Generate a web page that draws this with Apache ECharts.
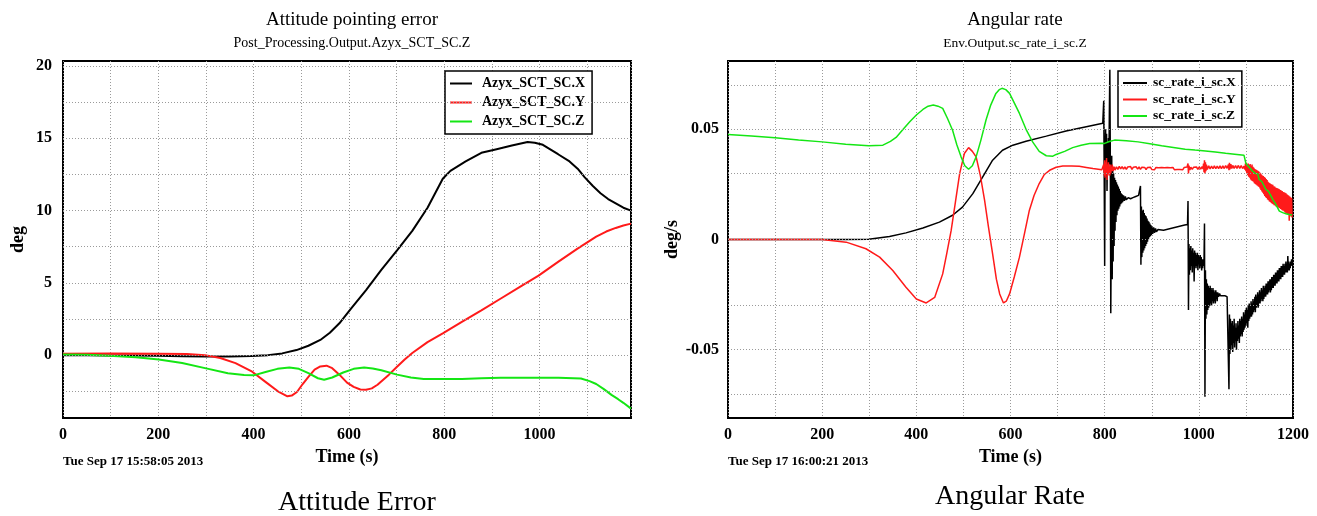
<!DOCTYPE html>
<html>
<head>
<meta charset="utf-8">
<title>Attitude Error / Angular Rate</title>
<script src="https://cdn.jsdelivr.net/npm/echarts@6/dist/echarts.min.js"></script>
<style>
  html, body { margin: 0; padding: 0; background: #ffffff; }
  #chart { width: 1317px; height: 516px; }
</style>
</head>
<body>
<div id="chart"></div>
<script>
// ---------- Attitude pointing error (deg) : [time s, value] ----------
const attX = [
  [0,0.0],[50,0.0],[100,-0.02],[150,-0.03],[200,-0.05],[250,-0.07],[300,-0.1],[350,-0.1],[395,-0.06],
  [430,0.0],[460,0.12],[490,0.35],[515,0.65],[540,1.05],[560,1.55],[580,2.2],[604,3.2],[636,4.5],
  [668,5.9],[701,7.25],[733,8.6],[765,10.2],[797,12.2],[813,12.75],[845,13.4],[878,14.0],[910,14.25],
  [942,14.5],[975,14.75],[990,14.7],[1007,14.55],[1039,13.9],[1063,13.4],[1080,12.9],[1095,12.3],
  [1112,11.7],[1128,11.2],[1144,10.8],[1160,10.5],[1176,10.2],[1192,10.0]
];
const attY = [
  [0,0.1],[100,0.12],[200,0.1],[260,0.08],[298,0.0],[330,-0.2],[362,-0.55],[395,-1.1],[427,-1.9],
  [451,-2.5],[471,-2.85],[480,-2.8],[491,-2.55],[503,-2.0],[515,-1.5],[528,-1.0],[540,-0.78],[553,-0.73],
  [565,-0.9],[580,-1.35],[596,-1.9],[610,-2.2],[624,-2.38],[636,-2.4],[648,-2.3],[660,-2.05],[672,-1.7],
  [684,-1.35],[701,-0.8],[717,-0.3],[733,0.15],[765,0.9],[797,1.5],[837,2.3],[878,3.1],[918,3.9],
  [958,4.7],[998,5.5],[1039,6.45],[1079,7.35],[1119,8.2],[1140,8.55],[1160,8.8],[1176,8.97],[1192,9.1]
];
const attZ = [
  [0,0.05],[50,0.02],[97,-0.05],[153,-0.15],[201,-0.3],[250,-0.55],[298,-0.9],[346,-1.25],[380,-1.38],
  [400,-1.4],[427,-1.15],[450,-0.95],[475,-0.85],[495,-0.95],[515,-1.25],[535,-1.6],[548,-1.7],
  [565,-1.55],[588,-1.2],[610,-0.95],[632,-0.85],[650,-0.92],[668,-1.05],[701,-1.35],[730,-1.55],
  [757,-1.65],[800,-1.66],[837,-1.65],[878,-1.6],[918,-1.57],[958,-1.56],[998,-1.56],[1040,-1.57],
  [1087,-1.62],[1105,-1.8],[1119,-2.0],[1135,-2.35],[1151,-2.75],[1165,-3.05],[1176,-3.3],[1192,-3.7]
];

// ---------- Angular rate (deg/s) : [time s, value] ----------
const rateX = [
  [0,0],[100,0],[200,0],[251,0],[299,0.0001],[343,0.0014],[378,0.003],[414,0.0052],[449,0.0079],
  [477,0.011],[498,0.0147],[520,0.0208],[541,0.0284],[562,0.036],[583,0.0405],[605,0.0428],[633,0.0446],
  [676,0.0469],[718,0.0492],[761,0.0512],[796,0.0528],
  [797,0.0528],[798,0.063],[799,0.030],[800,-0.012],[801,0.040],[802,0.050],[803,0.028],[804,0.048],
  [805,0.022],[806,0.044],[807,0.030],[808,0.046],[809,0.034],[810,0.058],[811,0.077],[812,0.036],
  [813,-0.0335],[814,0.002],[815,0.038],[816,-0.018],[817,0.032],[818,-0.010],[819,0.030],[820,-0.003],
  [821,0.028],[822,0.004],[823,0.027],[824,0.008],[825,0.026],[826,0.011],[827,0.025],[828,0.013],
  [829,0.024],[830,0.014],[831,0.023],[832,0.015],[833,0.022],[834,0.016],[835,0.021],[836,0.0165],
  [837,0.0205],[838,0.017],[840,0.020],[842,0.0175],[844,0.0195],[846,0.018],[850,0.019],[855,0.0185],
  [860,0.019],[866,0.0195],[872,0.020],[875,0.0205],
  [876,0.0243],[877,-0.0114],[878,0.015],[879,-0.008],[880,0.013],[881,-0.006],[882,0.0135],[883,-0.005],
  [884,0.012],[885,-0.004],[886,0.011],[887,-0.003],[888,0.0105],[889,-0.002],[890,0.0095],[891,-0.001],
  [892,0.0085],[893,0.0],[894,0.008],[895,0.001],[896,0.0072],[897,0.0015],[898,0.0066],[899,0.002],
  [900,0.006],[902,0.0025],[904,0.0055],[906,0.003],[908,0.005],[910,0.0035],[913,0.0045],[917,0.004],
  [925,0.0042],[940,0.0050],[955,0.0058],[970,0.0066],[976,0.0068],
  [977,0.0175],[978,-0.032],[979,-0.002],[980,-0.016],[981,-0.004],[982,-0.014],[983,-0.003],[984,-0.012],
  [985,-0.005],[986,-0.015],[987,-0.004],[988,-0.011],[989,-0.006],[990,-0.019],[991,-0.005],[992,-0.012],
  [993,-0.006],[994,-0.013],[995,-0.007],[996,-0.012],[997,-0.006],[998,-0.014],[999,-0.007],[1000,-0.011],
  [1001,-0.008],[1002,-0.013],[1003,-0.007],[1004,-0.012],[1005,-0.008],[1006,-0.014],[1007,-0.009],
  [1008,-0.013],[1009,-0.009],[1010,-0.012],[1011,-0.010],[1012,0.0073],[1013,-0.0713],[1014,-0.014],
  [1015,-0.036],[1016,-0.018],[1017,-0.034],[1018,-0.020],[1019,-0.032],[1020,-0.021],[1021,-0.031],
  [1022,-0.022],[1023,-0.030],[1024,-0.021],[1025,-0.029],[1026,-0.022],[1027,-0.030],[1028,-0.023],
  [1029,-0.028],[1030,-0.022],[1031,-0.029],[1032,-0.023],[1033,-0.028],[1034,-0.024],[1035,-0.029],
  [1036,-0.023],[1037,-0.027],[1038,-0.024],[1039,-0.028],[1040,-0.024],[1042,-0.026],[1044,-0.0245],
  [1046,-0.0255],[1050,-0.025],[1055,-0.0255],[1060,-0.026],[1063,-0.0265],
  [1064,-0.068],[1065,-0.034],[1066,-0.052],[1067,-0.036],[1068,-0.050],[1069,-0.038],[1070,-0.048],
  [1071,-0.037],[1072,-0.051],[1073,-0.039],[1074,-0.047],[1075,-0.036],[1076,-0.049],[1077,-0.040],
  [1078,-0.046],[1079,-0.038],[1080,-0.050],[1081,-0.040],[1082,-0.046],[1083,-0.037],[1084,-0.045],
  [1085,-0.039],[1086,-0.047],[1087,-0.036],[1088,-0.044],[1089,-0.037],[1090,-0.043],[1091,-0.035],
  [1092,-0.044],[1093,-0.036],[1094,-0.042],[1095,-0.033],[1096,-0.041],[1097,-0.034],[1098,-0.040],
  [1099,-0.032],[1100,-0.039],[1101,-0.031],[1102,-0.038],[1103,-0.032],[1104,-0.040],[1105,-0.030],
  [1106,-0.037],[1107,-0.029],[1108,-0.036],[1109,-0.030],[1110,-0.035],[1111,-0.028],[1112,-0.035],
  [1113,-0.029],[1114,-0.034],[1115,-0.027],[1116,-0.033],[1117,-0.028],[1118,-0.032],[1119,-0.026],
  [1120,-0.033],[1121,-0.025],[1122,-0.031],[1123,-0.026],[1124,-0.030],[1125,-0.024],[1126,-0.031],
  [1127,-0.025],[1128,-0.029],[1129,-0.023],[1130,-0.029],[1131,-0.024],[1132,-0.028],[1133,-0.022],
  [1134,-0.027],[1135,-0.023],[1136,-0.028],[1137,-0.021],[1138,-0.027],[1139,-0.022],[1140,-0.026],
  [1141,-0.021],[1142,-0.026],[1143,-0.020],[1144,-0.025],[1145,-0.020],[1146,-0.025],[1147,-0.019],
  [1148,-0.024],[1149,-0.019],[1150,-0.023],[1151,-0.018],[1152,-0.024],[1153,-0.018],[1154,-0.023],
  [1155,-0.017],[1156,-0.022],[1157,-0.017],[1158,-0.022],[1159,-0.016],[1160,-0.021],[1161,-0.016],
  [1162,-0.021],[1163,-0.015],[1164,-0.020],[1165,-0.015],[1166,-0.020],[1167,-0.014],[1168,-0.019],
  [1169,-0.014],[1170,-0.019],[1171,-0.013],[1172,-0.018],[1173,-0.013],[1174,-0.018],[1175,-0.012],
  [1176,-0.017],[1177,-0.012],[1178,-0.017],[1179,-0.011],[1180,-0.016],[1181,-0.012],[1182,-0.016],
  [1183,-0.011],[1184,-0.015],[1185,-0.010],[1186,-0.015],[1187,-0.011],[1188,-0.015],[1189,-0.0075],
  [1190,-0.014],[1191,-0.010],[1192,-0.014],[1193,-0.011],[1194,-0.013],[1195,-0.010],[1196,-0.012],
  [1197,-0.009],[1198,-0.011]
];
const rateY = [
  [0,0],[100,0],[200,0],[251,-0.0012],[293,-0.0042],[322,-0.008],[350,-0.0141],[378,-0.0217],[400,-0.027],
  [421,-0.0288],[439,-0.0263],[456,-0.0156],[465,-0.006],[474,0.0041],[483,0.017],[492,0.0299],[502,0.039],
  [511,0.0417],[519,0.040],[527,0.0375],[536,0.029],[545,0.0178],[553,0.006],[562,-0.0065],[570,-0.018],
  [577,-0.0247],[585,-0.0288],[591,-0.028],[598,-0.0247],[608,-0.017],[619,-0.008],[630,0.003],[640,0.0132],
  [650,0.020],[661,0.0254],[672,0.0295],[683,0.0314],[697,0.0328],[711,0.0334],[730,0.0334],[746,0.0332],
  [761,0.0327],[775,0.0322],[794,0.0317],
  [797,0.0316],[798,0.034],[799,0.029],[800,0.036],[801,0.028],[802,0.035],[803,0.030],[804,0.037],
  [805,0.027],[806,0.034],[807,0.029],[808,0.035],[809,0.030],[810,0.033],[811,0.029],[812,0.034],
  [813,0.030],[814,0.033],[815,0.031],[816,0.034],[818,0.031],[820,0.033],[822,0.0315],[825,0.0330],
  [828,0.0318],[831,0.0332],[834,0.0320],[837,0.0331],[840,0.0319],[843,0.0330],[846,0.0318],[849,0.0329],
  [852,0.0320],[855,0.0331],[858,0.0318],[861,0.0328],[864,0.0320],[867,0.0330],[870,0.0319],[873,0.0329],
  [876,0.0318],[879,0.0328],[882,0.0320],[885,0.0327],[888,0.0317],[891,0.0327],[894,0.0319],[897,0.0328],
  [900,0.0318],[903,0.0326],[906,0.0317],[909,0.0327],[912,0.0319],[915,0.0326],[918,0.0317],[921,0.0327],
  [924,0.0318],[927,0.0326],[930,0.0317],[933,0.0327],[936,0.0318],[939,0.0326],[942,0.0318],[945,0.0327],
  [948,0.0317],[951,0.0326],[954,0.0318],[957,0.0327],[960,0.0318],[963,0.0326],[966,0.0317],[969,0.0327],
  [972,0.0318],[975,0.0329],[977,0.0345],[978,0.030],[979,0.0335],[981,0.0315],[983,0.0328],[986,0.0318],
  [989,0.0328],[992,0.0319],[995,0.0329],[998,0.0318],[1001,0.0330],[1004,0.0319],[1007,0.0331],
  [1009,0.0320],[1010,0.0345],[1011,0.0305],[1012,0.0360],[1013,0.0300],[1014,0.0350],[1015,0.0310],
  [1016,0.0340],[1018,0.0318],[1021,0.0334],[1024,0.0320],[1027,0.0333],[1030,0.0321],[1033,0.0334],
  [1036,0.0321],[1039,0.0333],[1042,0.0322],[1045,0.0334],[1048,0.0322],[1051,0.0334],[1054,0.0322],
  [1057,0.0335],[1060,0.0323],[1063,0.0340],[1064,0.0315],[1065,0.0348],[1066,0.0318],[1068,0.0342],
  [1070,0.0322],[1072,0.0336],[1075,0.0323],[1078,0.0335],[1081,0.0323],[1084,0.0336],[1087,0.0322],
  [1090,0.0335],[1093,0.0322],[1096,0.0333],
  [1098,0.0318],[1099,0.0345],[1100,0.0310],[1101,0.0348],[1102,0.0300],[1103,0.0340],[1104,0.0292],
  [1105,0.0345],[1106,0.0285],[1107,0.0338],[1108,0.0280],[1109,0.0342],[1110,0.0272],[1111,0.0335],
  [1112,0.0268],[1113,0.0340],[1114,0.0265],[1115,0.0330],[1116,0.0262],[1117,0.0325],[1118,0.0255],
  [1119,0.0320],[1120,0.0252],[1121,0.0318],[1122,0.0248],[1123,0.0315],[1124,0.0245],[1125,0.0312],
  [1126,0.0242],[1127,0.0310],[1128,0.0238],[1129,0.0305],[1130,0.0232],[1131,0.0300],[1132,0.0225],
  [1133,0.0295],[1134,0.0218],[1135,0.0290],[1136,0.0212],[1137,0.0288],[1138,0.0205],[1139,0.0284],
  [1140,0.0198],[1141,0.0280],[1142,0.0192],[1143,0.0275],[1144,0.0188],[1145,0.0270],[1146,0.0182],
  [1147,0.0262],[1148,0.0178],[1149,0.0258],[1150,0.0172],[1151,0.0255],[1152,0.0170],[1153,0.0252],
  [1154,0.0166],[1155,0.0250],[1156,0.0162],[1157,0.0248],[1158,0.0160],[1159,0.0242],[1160,0.0156],
  [1161,0.0240],[1162,0.0154],[1163,0.0236],[1164,0.0150],[1165,0.0234],[1166,0.0148],[1167,0.0232],
  [1168,0.0146],[1169,0.0230],[1170,0.0144],[1171,0.0228],[1172,0.0142],[1173,0.0225],[1174,0.0138],
  [1175,0.0222],[1176,0.0135],[1177,0.0220],[1178,0.0132],[1179,0.0216],[1180,0.0130],[1181,0.0214],
  [1182,0.0126],[1183,0.0212],[1184,0.0122],[1185,0.0210],[1186,0.0118],[1187,0.0205],[1188,0.0115],
  [1189,0.0202],[1190,0.0112],[1191,0.0198],[1192,0.0085],[1193,0.0195],[1194,0.0108],[1195,0.0192],
  [1196,0.0104],[1197,0.0188],[1198,0.0100]
];
const rateZ = [
  [0,0.0477],[50,0.0470],[100,0.0462],[150,0.0452],[200,0.0443],[250,0.0432],[299,0.0425],[329,0.0428],
  [345,0.0445],[357,0.0463],[372,0.0500],[386,0.0534],[400,0.0565],[414,0.059],[425,0.0605],[436,0.061],
  [446,0.0605],[456,0.0595],[466,0.055],[477,0.0496],[486,0.043],[495,0.0375],[503,0.0335],[511,0.0319],
  [519,0.0335],[527,0.0375],[537,0.045],[548,0.0542],[558,0.061],[569,0.0663],[576,0.068],[582,0.0686],
  [590,0.068],[598,0.0663],[608,0.062],[619,0.0572],[633,0.050],[647,0.0443],[661,0.040],[676,0.038],
  [690,0.0378],[697,0.0386],[715,0.040],[732,0.0417],[750,0.0428],[768,0.0436],[794,0.0437],[800,0.0436],
  [810,0.0445],[821,0.0451],[846,0.0448],[871,0.0443],[896,0.0434],[921,0.0425],[946,0.0418],[971,0.041],
  [992,0.0406],[1014,0.0402],[1035,0.0397],[1057,0.0391],[1076,0.0387],[1096,0.0382],[1100,0.0345],
  [1106,0.0330],[1110,0.0328],[1114,0.0311],[1120,0.0300],[1125,0.0298],[1128,0.0273],[1134,0.0262],
  [1138,0.0258],[1142,0.0228],[1148,0.0218],[1152,0.0215],[1157,0.0182],[1162,0.0165],[1166,0.0160],
  [1171,0.0129],[1178,0.0122],[1185,0.0117],[1192,0.0113],[1198,0.0111]
];

// ---------- axis ticks, grid lines, labels ----------
const attYLabels = [0, 5, 10, 15, 20];
const attYGrid = [-2.5, 0, 2.5, 5, 7.5, 10, 12.5, 15, 17.5, 20];
const rateYLabels = [-0.05, 0, 0.05];
const rateYGrid = [-0.075, -0.05, -0.025, 0, 0.025, 0.05, 0.075];

const attNames = ['Azyx_SCT_SC.X', 'Azyx_SCT_SC.Y', 'Azyx_SCT_SC.Z'];
const rateNames = ['sc_rate_i_sc.X', 'sc_rate_i_sc.Y', 'sc_rate_i_sc.Z'];
const lineColors = ['#000000', '#ff1a1a', '#14e614'];

const SERIF = "'Liberation Serif', 'DejaVu Serif', serif";

const chart = echarts.init(document.getElementById('chart'), null, { renderer: 'canvas' });

const gridLineStyle = { type: [1, 2], color: '#9a9a9a', width: 1 };
const boldLabel = { fontFamily: SERIF, fontWeight: 'bold', fontSize: 16, color: '#000' };

function xAxisFor(gridIndex, max) {
  return {
    type: 'value', gridIndex, min: 0, max, interval: 100,
    axisLine: { show: false }, axisTick: { show: false },
    splitLine: { show: true, lineStyle: gridLineStyle },
    axisLabel: Object.assign({ margin: 9, formatter: v => (v % 200 === 0 ? String(v) : '') }, boldLabel),
    name: 'Time (s)', nameLocation: 'middle', nameGap: 30,
    nameTextStyle: { fontFamily: SERIF, fontWeight: 'bold', fontSize: 18, color: '#000' }
  };
}

function gridMarks(values) {
  return {
    silent: true, symbol: 'none', label: { show: false },
    lineStyle: gridLineStyle, animation: false,
    data: values.map(v => ({ yAxis: v }))
  };
}

function lineSeries(name, data, idx, color, width) {
  return {
    name, type: 'line', data, xAxisIndex: idx, yAxisIndex: idx,
    symbol: 'none', smooth: false, clip: true, z: 3,
    lineStyle: { color, width }, itemStyle: { color }
  };
}

const option = {
  backgroundColor: '#ffffff',
  animation: false,
  title: [
    { text: 'Attitude pointing error', subtext: 'Post_Processing.Output.Azyx_SCT_SC.Z',
      left: 347, top: 6, textAlign: 'center', itemGap: 6,
      textStyle: { fontFamily: SERIF, fontWeight: 'normal', fontSize: 19, color: '#000' },
      subtextStyle: { fontFamily: SERIF, fontSize: 14, color: '#000' } },
    { text: 'Angular rate', subtext: 'Env.Output.sc_rate_i_sc.Z',
      left: 1010, top: 6, textAlign: 'center', itemGap: 6,
      textStyle: { fontFamily: SERIF, fontWeight: 'normal', fontSize: 19, color: '#000' },
      subtextStyle: { fontFamily: SERIF, fontSize: 13.5, color: '#000' } }
  ],
  legend: [
    { data: attNames, orient: 'vertical', left: 445, top: 71, icon: 'rect',
      itemWidth: 22, itemHeight: 2, itemGap: 4, padding: [5, 7, 5, 5],
      borderColor: '#000', borderWidth: 1.5, backgroundColor: '#fff',
      textStyle: { fontFamily: SERIF, fontWeight: 'bold', fontSize: 14, lineHeight: 15, color: '#000', padding: [0, 0, 0, 5] } },
    { data: rateNames, orient: 'vertical', left: 1118, top: 71, icon: 'rect',
      itemWidth: 24, itemHeight: 2, itemGap: 2.5, padding: [5, 6, 4, 5],
      borderColor: '#000', borderWidth: 1.5, backgroundColor: '#fff',
      textStyle: { fontFamily: SERIF, fontWeight: 'bold', fontSize: 13.5, lineHeight: 13, color: '#000', padding: [0, 0, 0, 1] } }
  ],
  grid: [
    { left: 63, top: 61, width: 568, height: 357, show: true, borderColor: '#000', borderWidth: 2, backgroundColor: 'transparent' },
    { left: 728, top: 61, width: 565, height: 357, show: true, borderColor: '#000', borderWidth: 2, backgroundColor: 'transparent' }
  ],
  xAxis: [ xAxisFor(0, 1192), xAxisFor(1, 1200) ],
  yAxis: [
    { type: 'value', gridIndex: 0, min: -4.35, max: 20.35,
      axisLine: { show: false }, axisTick: { show: false }, splitLine: { show: false },
      axisLabel: Object.assign({ margin: 11, customValues: attYLabels, formatter: v => String(v) }, boldLabel),
      name: 'deg', nameLocation: 'middle', nameGap: 36, nameRotate: 90,
      nameTextStyle: { fontFamily: SERIF, fontWeight: 'bold', fontSize: 18, color: '#000' } },
    { type: 'value', gridIndex: 1, min: -0.081, max: 0.081,
      axisLine: { show: false }, axisTick: { show: false }, splitLine: { show: false },
      axisLabel: Object.assign({ margin: 9, customValues: rateYLabels, formatter: v => String(v) }, boldLabel),
      name: 'deg/s', nameLocation: 'middle', nameGap: 37, nameRotate: 90,
      nameTextStyle: { fontFamily: SERIF, fontWeight: 'bold', fontSize: 18, color: '#000' } }
  ],
  series: [
    { type: 'line', data: [], xAxisIndex: 0, yAxisIndex: 0, z: 1, markLine: gridMarks(attYGrid) },
    { type: 'line', data: [], xAxisIndex: 1, yAxisIndex: 1, z: 1, markLine: gridMarks(rateYGrid) },
    lineSeries(attNames[0], attX, 0, lineColors[0], 2),
    lineSeries(attNames[1], attY, 0, lineColors[1], 2),
    lineSeries(attNames[2], attZ, 0, lineColors[2], 2),
    lineSeries(rateNames[0], rateX, 1, lineColors[0], 1.5),
    lineSeries(rateNames[1], rateY, 1, lineColors[1], 1.5),
    lineSeries(rateNames[2], rateZ, 1, lineColors[2], 1.5)
  ],
  graphic: [
    { type: 'text', x: 63, y: 462,
      style: { text: 'Tue Sep 17 15:58:05 2013', font: "bold 13px 'Liberation Serif', serif", fill: '#000',
               align: 'left', verticalAlign: 'middle' } },
    { type: 'text', x: 728, y: 462,
      style: { text: 'Tue Sep 17 16:00:21 2013', font: "bold 13px 'Liberation Serif', serif", fill: '#000',
               align: 'left', verticalAlign: 'middle' } },
    { type: 'text', x: 357, y: 503,
      style: { text: 'Attitude Error', font: "28px 'Liberation Serif', serif", fill: '#000',
               align: 'center', verticalAlign: 'middle' } },
    { type: 'text', x: 1010, y: 497,
      style: { text: 'Angular Rate', font: "28px 'Liberation Serif', serif", fill: '#000',
               align: 'center', verticalAlign: 'middle' } }
  ]
};

chart.setOption(option);
</script>
</body>
</html>
